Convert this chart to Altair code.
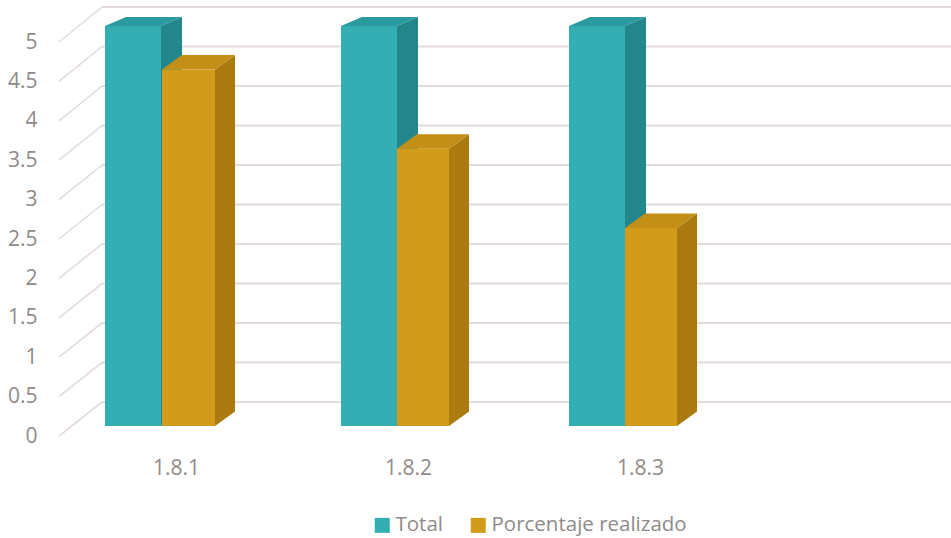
import altair as alt
import pandas as pd

# Chart values
CATEGORIES = ["1.8.1", "1.8.2", "1.8.3"]
TOTAL = [5, 5, 5]
REALIZADO = [4.5, 3.5, 2.5]
SERIES_NAMES = ["Total", "Porcentaje realizado"]
Y_TICKS = [0, 0.5, 1, 1.5, 2, 2.5, 3, 3.5, 4, 4.5, 5]

# Layout of the pseudo-3D scene, in screen pixels
PLOT_LEFT, PLOT_W, PLOT_H = 45, 906, 445
UNIT = 78.8            # pixels per value unit on the axis plane
ZERO = 436             # screen row of value 0 on the axis plane
WALL_LEFT, WALL_ZERO, WALL_UNIT = 102, 402, 79
FLOOR_LEFT = 59
BASE = 426             # screen row of the bars' front edge
BAR_LEFT = [105, 341, 569]
LABEL_X = [176, 408, 640]
FRONT_STYLE = {
    "Total": dict(width=[56, 56, 56], gap=[0, 0, 0], dx=21, dy=9, unit=80.0),
    "Porcentaje realizado": dict(width=[53, 52, 52], gap=[57, 56, 56], dx=20, dy=14.5, unit=79.2),
}
COLORS = {
    "Total": ("#33afb4", "#2a9aa0", "#23868a"),
    "Porcentaje realizado": ("#d29b1a", "#c38f16", "#ab7b10"),
}
GRID = "#e4dcd9"
TEXT = "#8f8b8b"
FONT = "Open Sans"


def rows(px):
    """Screen row to position on the value scale."""
    return (ZERO - px) / UNIT


x_scale = alt.Scale(domain=[PLOT_LEFT, PLOT_LEFT + PLOT_W], nice=False, zero=False)
y_scale = alt.Scale(domain=[rows(PLOT_H), rows(0)], nice=False, zero=False)

labels_expr = "{" + ",".join(f"'{x}':'{c}'" for x, c in zip(LABEL_X, CATEGORIES)) + "}[datum.value]"
x_axis = alt.Axis(
    title=None, values=LABEL_X, labelExpr=labels_expr, domain=False, ticks=False, grid=False,
    labelFont=FONT, labelFontSize=21, labelColor=TEXT, labelPadding=12,
    labelFlush=False, labelOverlap=False)
y_axis = alt.Axis(
    title=None, values=Y_TICKS, labelExpr="format(datum.value, '~g')", domain=False,
    ticks=False, grid=False, labelFont=FONT, labelFontSize=21, labelColor=TEXT,
    labelPadding=8, labelOverlap=False)


def X(field):
    return alt.X(field, scale=x_scale, axis=x_axis)


def Y(field):
    return alt.Y(field, scale=y_scale, axis=y_axis)


# Back wall lines and the diagonal floor lines running to the axis labels
wall = pd.DataFrame({
    "x": [WALL_LEFT] * len(Y_TICKS),
    "x2": [PLOT_LEFT + PLOT_W] * len(Y_TICKS),
    "y": [rows(WALL_ZERO - t * WALL_UNIT) for t in Y_TICKS],
})
diag = pd.DataFrame({
    "x": [FLOOR_LEFT] * len(Y_TICKS),
    "x2": [WALL_LEFT] * len(Y_TICKS),
    "y": [t for t in Y_TICKS],
    "y2": [rows(WALL_ZERO - t * WALL_UNIT) for t in Y_TICKS],
})

wall_layer = alt.Chart(wall).mark_rule(color=GRID, strokeWidth=2).encode(
    x=X("x:Q"), x2="x2:Q", y=Y("y:Q"),
)
diag_layer = alt.Chart(diag).mark_rule(color=GRID, strokeWidth=1.6).encode(
    x=X("x:Q"), x2="x2:Q", y=Y("y:Q"), y2="y2:Q",
)

layers = [wall_layer, diag_layer]

for name, values in zip(SERIES_NAMES, [TOTAL, REALIZADO]):
    st = FRONT_STYLE[name]
    front_c, top_c, side_c = COLORS[name]
    front, side, top = [], [], []
    for i, (cat, left, v) in enumerate(zip(CATEGORIES, BAR_LEFT, values)):
        xl = left + st["gap"][i]
        xr = xl + st["width"][i]
        top_px = BASE - v * st["unit"]
        front.append(dict(cat=cat, series=name, xl=xl, xr=xr, y=rows(top_px), y2=rows(BASE)))
        # Side face: a parallelogram from the front right edge to the back
        side.append(dict(cat=cat, x=xr, y=rows(top_px), y2=rows(BASE)))
        side.append(dict(cat=cat, x=xr + st["dx"], y=rows(top_px - st["dy"]), y2=rows(BASE - st["dy"])))
        # Top face: a parallelogram swept along y
        top.append(dict(cat=cat, x=xl, x2=xr, y=rows(top_px)))
        top.append(dict(cat=cat, x=xl + st["dx"], x2=xr + st["dx"], y=rows(top_px - st["dy"])))

    layers.append(alt.Chart(pd.DataFrame(side)).mark_area(color=side_c, interpolate="linear").encode(
        x=X("x:Q"), y=Y("y:Q"), y2="y2:Q", detail="cat:N",
    ))
    layers.append(alt.Chart(pd.DataFrame(top)).mark_area(color=top_c, orient="horizontal", interpolate="linear").encode(
        y=Y("y:Q"), x=X("x:Q"), x2="x2:Q", detail="cat:N",
    ))
    layers.append(alt.Chart(pd.DataFrame(front)).mark_rect().encode(
        x=X("xl:Q"), x2="xr:Q", y=Y("y:Q"), y2="y2:Q",
        color=alt.Color("series:N", scale=alt.Scale(
            domain=SERIES_NAMES, range=[COLORS[s][0] for s in SERIES_NAMES]),
            legend=alt.Legend(
                title=None, orient="none", direction="horizontal",
                legendX=374 - PLOT_LEFT - 2, legendY=515,
                symbolType="square", symbolSize=225, symbolStrokeWidth=0,
                labelFont=FONT, labelFontSize=20.5, labelColor=TEXT, labelLimit=300,
                labelOffset=3, columnPadding=25, padding=0,
            )),
    ))

chart = alt.layer(*layers).properties(
    width=PLOT_W,
    height=PLOT_H,
    background="white",
    autosize=alt.AutoSizeParams(type="none"),
    padding={"left": PLOT_LEFT, "top": 0, "right": 0, "bottom": 93},
).configure_view(stroke=None)

chart.save("out.html", embed_options={"renderer": "svg", "actions": False})
